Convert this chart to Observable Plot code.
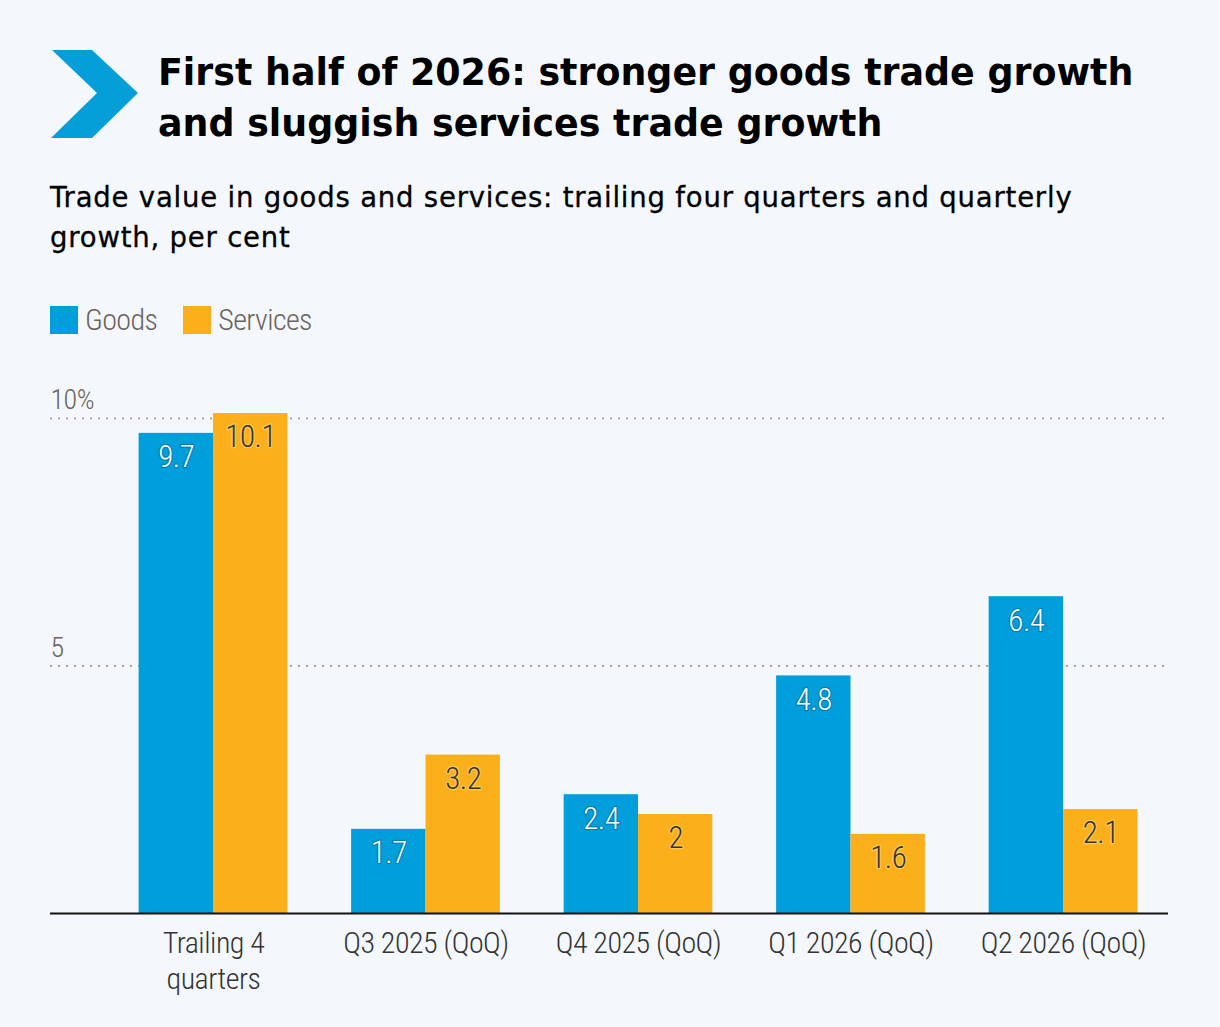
<!DOCTYPE html>
<html>
<head>
<meta charset="utf-8">
<script src="https://cdn.jsdelivr.net/npm/d3@7"></script>
<script src="https://cdn.jsdelivr.net/npm/@observablehq/plot@0.6"></script>
<style>
  html, body { margin: 0; padding: 0; }
  body { width: 1220px; height: 1027px; background: #f4f8fc; position: relative; overflow: hidden; font-family: "DejaVu Sans", sans-serif; }
  #logo { position: absolute; left: 0; top: 0; }
  #title { position: absolute; left: 158px; top: 47px; font-size: 36.4px; font-weight: bold; line-height: 51px; color: #000; white-space: nowrap; }
  #subtitle { position: absolute; left: 50px; top: 177px; font-size: 27.5px; line-height: 40px; letter-spacing: 0.8px; color: #000; -webkit-text-stroke: 0.3px #000; white-space: nowrap; }
  #legend { position: absolute; left: 50px; top: 302px; display: flex; font-family: "Roboto Condensed", sans-serif; font-weight: 300; letter-spacing: -0.6px; font-size: 30px; color: #6b635d; }
  .item { display: flex; align-items: center; margin-right: 26px; }
  .sw { width: 28px; height: 28px; margin-right: 7px; }
  #chart { position: absolute; left: 0; top: 370px; }
</style>
</head>
<body>
<svg id="logo" width="160" height="160"><polygon points="52,50 92,50 138,93 92,138 51,138 97,93" fill="#049fd9"/></svg>
<div id="title">First half of 2026: stronger goods trade growth<br>and sluggish services trade growth</div>
<div id="subtitle">Trade value in goods and services: trailing four quarters and quarterly<br>growth, per cent</div>
<div id="legend"></div>
<div id="chart"></div>
<script>
const categories = ["Trailing 4\nquarters", "Q3 2025 (QoQ)", "Q4 2025 (QoQ)", "Q1 2026 (QoQ)", "Q2 2026 (QoQ)"];
const goods = [9.7, 1.7, 2.4, 4.8, 6.4];
const services = [10.1, 3.2, 2, 1.6, 2.1];
const seriesNames = ["Goods", "Services"];
const seriesColors = ["#009edb", "#fbb01b"];
const yTicks = [5, 10];
const yTickLabels = ["5", "10%"];

const rows = categories.flatMap((c, i) => [
  {i, series: "Goods", value: goods[i]},
  {i, series: "Services", value: services[i]}
]);

const legend = document.getElementById("legend");
seriesNames.forEach((s, k) => {
  const it = document.createElement("div");
  it.className = "item";
  it.innerHTML = `<div class="sw" style="background:${seriesColors[k]}"></div><span>${s}</span>`;
  legend.appendChild(it);
});

const w = 0.35;
const xDomain = [-0.767, 4.494];
const isG = d => d.series === "Goods";

const chart = Plot.plot({
  width: 1220,
  height: 657,
  marginTop: 48,
  marginBottom: 114,
  marginLeft: 50,
  marginRight: 52,
  style: {background: "transparent", fontFamily: "'Roboto Condensed', sans-serif", fontWeight: 300, letterSpacing: "-0.5px"},
  x: {type: "linear", domain: xDomain},
  y: {domain: [0, 10], axis: null},
  color: {domain: seriesNames, range: seriesColors},
  marks: [
    Plot.ruleY(yTicks, {stroke: "#aaa39c", strokeWidth: 2, strokeDasharray: "2,6"}),
    Plot.text(yTicks, {x: () => xDomain[0], y: d => d, text: (d, k) => yTickLabels[k], textAnchor: "start", dy: -18, fontSize: 28, fill: "#6b635d"}),
    Plot.rect(rows, {x1: d => isG(d) ? d.i - w : d.i, x2: d => isG(d) ? d.i : d.i + w, y1: 0, y2: "value", fill: "series"}),
    Plot.text(rows, {
      x: d => isG(d) ? d.i - w / 2 : d.i + w / 2,
      y: "value",
      text: d => String(d.value),
      dy: 24,
      fontSize: 31,
      fill: d => isG(d) ? "#ffffff" : "#333333",
      stroke: d => isG(d) ? "#00557a" : "#ffe9a8",
      strokeWidth: 2.5,
      strokeOpacity: 0.45
    }),
    Plot.ruleY([0], {stroke: "#111", strokeWidth: 2}),
    Plot.axisX({ticks: categories.map((_, i) => i), tickFormat: i => categories[i], tickSize: 0, tickPadding: 14, fontSize: 30, lineHeight: 1.2, color: "#333"})
  ]
});
document.getElementById("chart").appendChild(chart);
</script>
</body>
</html>
